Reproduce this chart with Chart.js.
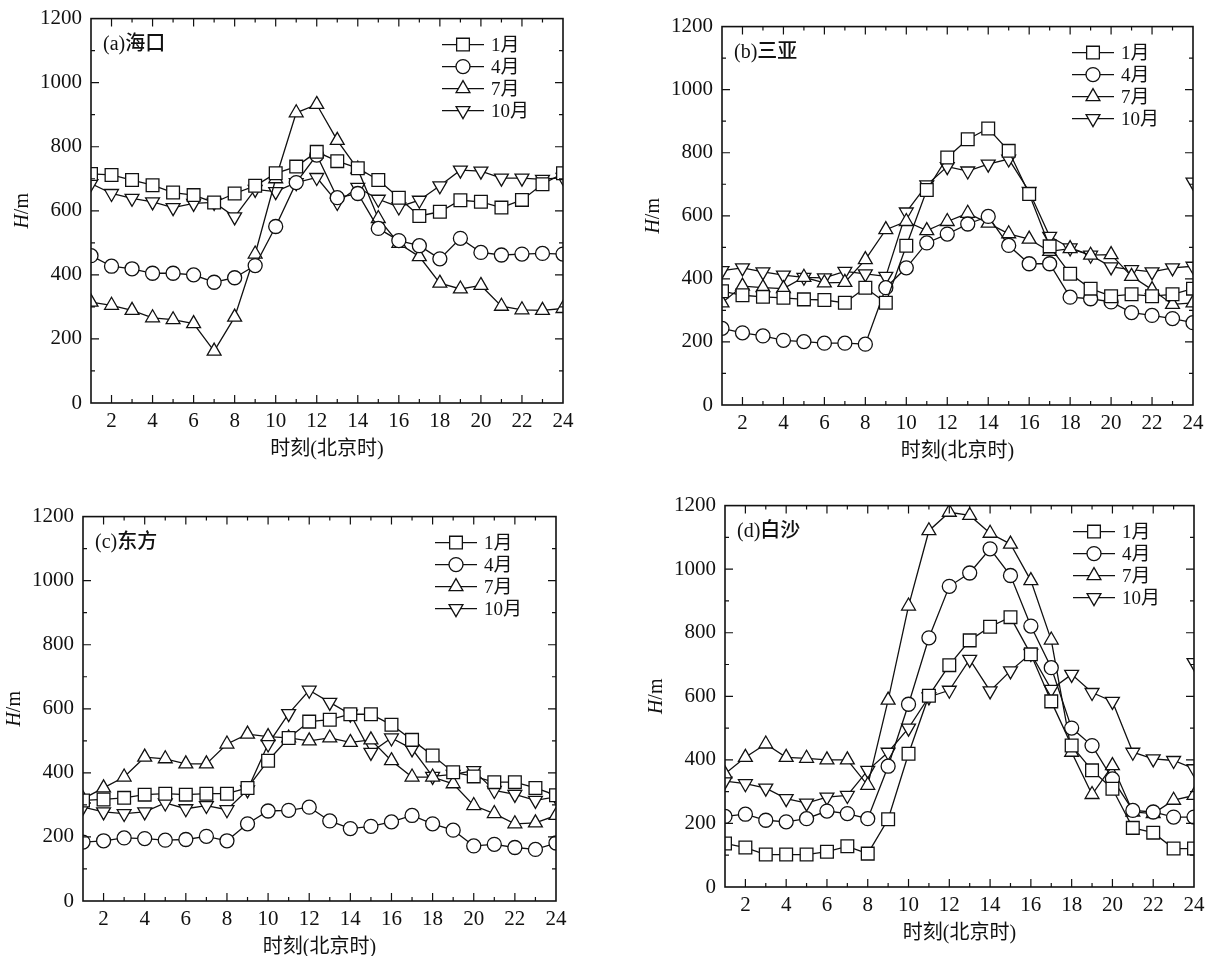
<!DOCTYPE html>
<html>
<head>
<meta charset="utf-8">
<script src="https://cdn.jsdelivr.net/npm/chart.js@4.4.1/dist/chart.umd.min.js"></script>
<style>
	html, body { margin: 0; padding: 0; background: #fff; width: 1216px; height: 956px; overflow: hidden; position: relative; }
	canvas { position: absolute; }
</style>
</head>
<body>
<canvas id="panelA"></canvas>
<canvas id="panelB"></canvas>
<canvas id="panelC"></canvas>
<canvas id="panelD"></canvas>
<script>
(function () {
	'use strict';

	// ─── Data (boundary-layer height H in m, per hour, Beijing time) ───
	var hours = [1, 2, 3, 4, 5, 6, 7, 8, 9, 10, 11, 12, 13, 14, 15, 16, 17, 18, 19, 20, 21, 22, 23, 24];
	var months = ['1月', '4月', '7月', '10月'];
	var xTicks = [2, 4, 6, 8, 10, 12, 14, 16, 18, 20, 22, 24];
	var yTicks = [0, 200, 400, 600, 800, 1000, 1200];

	var haikouJan = [715, 712, 696, 680, 657, 649, 626, 654, 678, 717, 738, 784, 755, 733, 696, 641, 584, 597, 633, 628, 610, 634, 683, 717];
	var haikouApr = [460, 427, 419, 405, 405, 400, 377, 391, 429, 551, 688, 774, 641, 654, 545, 507, 491, 450, 514, 470, 462, 465, 467, 465];
	var haikouJul = [315, 305, 289, 266, 260, 248, 162, 268, 465, 700, 906, 932, 820, 730, 576, 498, 457, 374, 356, 367, 302, 291, 289, 295];
	var haikouOct = [685, 654, 639, 628, 610, 623, 626, 581, 667, 660, 688, 704, 626, 673, 636, 612, 633, 678, 727, 724, 702, 702, 698, 704];

	var sanyaJan = [361, 348, 343, 340, 335, 333, 324, 372, 324, 505, 682, 785, 843, 877, 806, 669, 503, 416, 369, 345, 351, 345, 351, 369];
	var sanyaApr = [243, 229, 219, 205, 201, 196, 196, 193, 372, 435, 514, 542, 574, 598, 506, 448, 448, 342, 337, 327, 293, 284, 274, 261];
	var sanyaJul = [324, 377, 372, 369, 405, 387, 389, 461, 556, 582, 553, 582, 608, 577, 543, 526, 487, 496, 475, 477, 408, 366, 319, 324];
	var sanyaOct = [426, 435, 422, 412, 405, 403, 424, 416, 408, 612, 698, 756, 742, 764, 780, 677, 535, 498, 475, 438, 429, 422, 435, 440];

	var dongfangJan = [314, 317, 322, 332, 335, 332, 335, 335, 353, 438, 509, 560, 566, 583, 583, 550, 503, 454, 402, 389, 371, 371, 353, 330];
	var dongfangApr = [184, 188, 197, 195, 190, 192, 202, 188, 241, 281, 283, 293, 250, 226, 233, 247, 267, 241, 221, 172, 177, 167, 161, 181];
	var dongfangJul = [319, 353, 387, 449, 444, 428, 428, 490, 521, 513, 509, 500, 509, 495, 503, 438, 387, 387, 366, 298, 273, 241, 244, 267];
	var dongfangOct = [293, 278, 273, 278, 306, 288, 298, 285, 347, 490, 585, 658, 620, 583, 464, 509, 475, 389, 395, 407, 345, 333, 314, 325];

	var baishaJan = [137, 124, 102, 102, 102, 111, 128, 105, 213, 419, 602, 698, 776, 819, 849, 732, 584, 445, 367, 309, 186, 171, 121, 121];
	var baishaApr = [222, 229, 210, 205, 215, 239, 231, 215, 380, 575, 784, 946, 988, 1064, 980, 821, 690, 500, 445, 340, 241, 236, 220, 220];
	var baishaJul = [356, 408, 450, 408, 405, 400, 400, 320, 588, 884, 1121, 1179, 1169, 1113, 1079, 964, 777, 424, 291, 382, 236, 231, 273, 288];
	var baishaOct = [333, 325, 311, 278, 264, 283, 288, 367, 424, 500, 598, 619, 716, 617, 680, 735, 622, 669, 612, 584, 424, 403, 398, 372];

	// lone unconnected 10月 markers sitting on the right frame in (b) and (d)
	var strayHour = [24];
	var sanyaStray = [707];
	var baishaStray = [706];

	// ─── Styles ───
	var ink = '#111';
	var serifCjk = '"Liberation Serif", "Noto Sans CJK SC", serif';
	var markers = [
		{ style: 'rect', radius: 9, rotation: 0 },
		{ style: 'circle', radius: 7, rotation: 0 },
		{ style: 'triangle', radius: 8, rotation: 0 },
		{ style: 'triangle', radius: 8, rotation: 180 }
	];
	// room around each plot area for tick labels and titles
	var PAD_L = 90, PAD_T = 20, PAD_R = 20, PAD_B = 70;

	function drawMarker(ctx, m, x, y) {
		var r = m.radius;
		ctx.beginPath();
		if (m.style === 'rect') {
			var s = r * Math.SQRT1_2;
			ctx.rect(x - s, y - s, 2 * s, 2 * s);
		} else if (m.style === 'circle') {
			ctx.arc(x, y, r, 0, Math.PI * 2);
		} else {
			var d = m.rotation ? -1 : 1;
			ctx.moveTo(x, y - d * r);
			ctx.lineTo(x + 0.866 * r, y + d * 0.5 * r);
			ctx.lineTo(x - 0.866 * r, y + d * 0.5 * r);
			ctx.closePath();
		}
		ctx.fill();
		ctx.stroke();
	}

	var framePlugin = {
		id: 'frame',
		afterDatasetsDraw: function (chart, args, opts) {
			var ctx = chart.ctx;
			var a = chart.chartArea;
			var xs = chart.scales.x;
			var ys = chart.scales.y;
			ctx.save();

			// box
			ctx.strokeStyle = ink;
			ctx.lineWidth = 1.6;
			ctx.strokeRect(a.left, a.top, a.right - a.left, a.bottom - a.top);

			// inward ticks on all four sides
			ctx.lineWidth = 1.2;
			ctx.beginPath();
			var h, v, p, len;
			for (h = 2; h < 24; h++) {
				p = xs.getPixelForValue(h);
				len = h % 2 === 0 ? 8 : 4;
				ctx.moveTo(p, a.bottom); ctx.lineTo(p, a.bottom - len);
				ctx.moveTo(p, a.top); ctx.lineTo(p, a.top + len);
			}
			for (v = 100; v < 1200; v += 100) {
				p = ys.getPixelForValue(v);
				len = v % 200 === 0 ? 8 : 4;
				ctx.moveTo(a.left, p); ctx.lineTo(a.left + len, p);
				ctx.moveTo(a.right, p); ctx.lineTo(a.right - len, p);
			}
			ctx.stroke();

			ctx.fillStyle = ink;
			ctx.textBaseline = 'middle';

			// panel title
			ctx.textAlign = 'left';
			ctx.font = '500 20px ' + serifCjk;
			ctx.fillText(opts.title, a.left + 12, a.top + 26);

			// legend
			ctx.font = '19px ' + serifCjk;
			months.forEach(function (name, i) {
				var ly = a.top + 26 + i * 22;
				var mx = a.right - 100;
				ctx.lineWidth = 1.3;
				ctx.beginPath();
				ctx.moveTo(mx - 21, ly); ctx.lineTo(mx + 21, ly);
				ctx.stroke();
				ctx.fillStyle = '#fff';
				drawMarker(ctx, markers[i], mx, ly);
				ctx.fillStyle = ink;
				ctx.fillText(name, a.right - 72, ly + 1);
			});

			// x axis title
			ctx.textAlign = 'center';
			ctx.font = '20px ' + serifCjk;
			ctx.fillText('时刻(北京时)', (a.left + a.right) / 2, a.bottom + 47);

			// y axis title: italic H + /m, rotated
			ctx.translate(a.left - 68, (a.top + a.bottom) / 2);
			ctx.rotate(-Math.PI / 2);
			ctx.textAlign = 'left';
			ctx.font = 'italic 20px "Liberation Serif", serif';
			var wH = ctx.measureText('H').width;
			ctx.font = '20px "Liberation Serif", serif';
			var wM = ctx.measureText('/m').width;
			var x0 = -(wH + wM) / 2;
			ctx.font = 'italic 20px "Liberation Serif", serif';
			ctx.fillText('H', x0, 0);
			ctx.font = '20px "Liberation Serif", serif';
			ctx.fillText('/m', x0 + wH, 0);

			ctx.restore();
		}
	};

	function plainLabel(value) {
		return String(value);
	}

	function pointSet(label, xs, ys, m, showLine) {
		return {
			label: label,
			data: xs.map(function (hr, k) { return { x: hr, y: ys[k] }; }),
			showLine: showLine,
			borderColor: ink,
			borderWidth: 1.3,
			tension: 0,
			pointStyle: m.style,
			pointRadius: m.radius,
			pointRotation: m.rotation,
			pointBackgroundColor: '#fff',
			pointBorderColor: ink,
			pointBorderWidth: 1.3
		};
	}

	function makePanel(id, box, title, series, stray) {
		var canvas = document.getElementById(id);
		var w = (box.right - box.left) + PAD_L + PAD_R;
		var hgt = (box.bottom - box.top) + PAD_T + PAD_B;
		canvas.width = w;
		canvas.height = hgt;
		canvas.style.width = w + 'px';
		canvas.style.height = hgt + 'px';
		canvas.style.left = (box.left - PAD_L) + 'px';
		canvas.style.top = (box.top - PAD_T) + 'px';

		var datasets = series.map(function (vals, i) {
			return pointSet(months[i], hours, vals, markers[i], true);
		});
		if (stray) {
			datasets.push(pointSet('10月', strayHour, stray, markers[3], false));
		}

		var tickFont = { family: '"Liberation Serif", serif', size: 21 };

		return new Chart(canvas.getContext('2d'), {
			type: 'line',
			data: { datasets: datasets },
			options: {
				responsive: false,
				animation: false,
				devicePixelRatio: 1,
				layout: { padding: { left: 0, top: PAD_T, right: PAD_R, bottom: 0 } },
				plugins: {
					legend: { display: false },
					tooltip: { enabled: false },
					frame: { title: title }
				},
				scales: {
					x: {
						type: 'linear',
						min: 1,
						max: 24,
						grid: { display: false, drawTicks: false },
						border: { display: false },
						afterBuildTicks: function (s) { s.ticks = xTicks.map(function (t) { return { value: t }; }); },
						afterFit: function (s) { s.height = PAD_B; },
						ticks: { color: ink, font: tickFont, padding: 6, maxRotation: 0, autoSkip: false, callback: plainLabel }
					},
					y: {
						type: 'linear',
						min: 0,
						max: 1200,
						grid: { display: false, drawTicks: false },
						border: { display: false },
						afterBuildTicks: function (s) { s.ticks = yTicks.map(function (t) { return { value: t }; }); },
						afterFit: function (s) { s.width = PAD_L; },
						ticks: { color: ink, font: tickFont, padding: 9, callback: plainLabel }
					}
				}
			},
			plugins: [framePlugin]
		});
	}

	makePanel('panelA', { left: 91, top: 17, right: 563, bottom: 403 }, '(a)海口',
		[haikouJan, haikouApr, haikouJul, haikouOct], null);
	makePanel('panelB', { left: 722, top: 25, right: 1193, bottom: 405 }, '(b)三亚',
		[sanyaJan, sanyaApr, sanyaJul, sanyaOct], sanyaStray);
	makePanel('panelC', { left: 83, top: 515, right: 556, bottom: 901 }, '(c)东方',
		[dongfangJan, dongfangApr, dongfangJul, dongfangOct], null);
	makePanel('panelD', { left: 725, top: 504, right: 1194, bottom: 887 }, '(d)白沙',
		[baishaJan, baishaApr, baishaJul, baishaOct], baishaStray);
})();
</script>
</body>
</html>
